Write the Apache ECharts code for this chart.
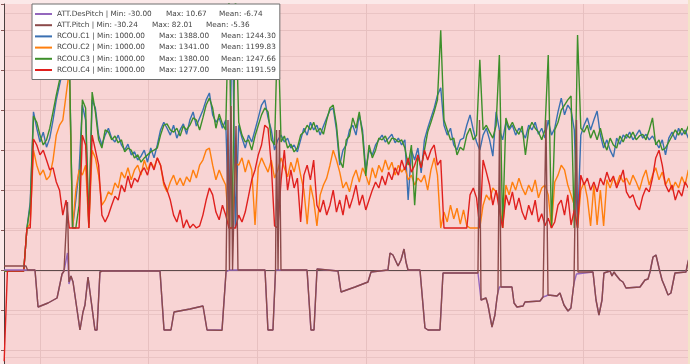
<!DOCTYPE html>
<html>
<head>
<meta charset="utf-8">
<script src="https://cdn.jsdelivr.net/npm/echarts@6.0.0/dist/echarts.min.js"></script>
<style>
html,body{margin:0;padding:0;background:#fbe9e9;}
#chart{width:690px;height:364px;}
</style>
</head>
<body>
<div id="chart"></div>
<script>
// ---- data ----
const legendNames = ['ATT.DesPitch','ATT.Pitch','RCOU.C1','RCOU.C2','RCOU.C3','RCOU.C4'];
const statMin  = ['-30.00','-30.24','1000.00','1000.00','1000.00','1000.00'];
const statMax  = ['10.67','82.01','1388.00','1341.00','1380.00','1277.00'];
const statMean = ['-6.74','-5.36','1244.30','1199.83','1247.66','1191.59'];

const rcouTime = [67,70,73,76,79,82,85,88,91,94,97,100,103,106,109,112,115,118,121,124,127,130,133,136,139,142,145,148,151,154,157,160,163,166,169,172,175,178,181,184,187,190,193,196,199,202,205,208,211,214,217,220,223,226,229,232,235,238,241,244,247,250,253,256,259,262,265,268,271,274,277,280,283,286,289,292,295,298,301,304,307,310,313,316,319,322,325,328,331,334,337,340,343,346,349,352,355,358,361,364,367,370,373,376,379,382,385,388,391,394,397,400,403,406,409,412,415,418,421,424,427,430,433,436,439,442,445,448,451,454,457,460,463,466,469,472,475,478,481,484,487,490,493,496,499,502,505,508,511,514,517,520,523,526,529,532,535,538,541,544,547,550,553,556,559,562,565,568,571,574,577,580,583,586,589,592,595,598,601,604,607,610,613,616,619,622,625,628,631,634,637,640,643,646,649,652,655,658,661,664,667,670,673,676,679,682,685,688,691,694,697];

const rcouC1 = [
900,900,900,900,900,900,900,1000,1060,1270,
1232,1200,1223,1188,1209,1251,1298,1333,1367,1414,
1390,1000,1065,1135,1286,1251,1000,1298,1279,1216,
1193,1216,1232,1209,1200,1216,1193,1181,1195,1170,
1177,1158,1167,1181,1153,1186,1163,1193,1228,1246,
1232,1216,1239,1209,1228,1242,1218,1251,1270,1237,
1256,1274,1298,1314,1263,1246,1256,1232,1251,1000,
1520,1000,1239,1209,1186,1216,1200,1228,1256,1286,
1298,1256,1228,1181,1205,1216,1200,1209,1186,1193,
1177,1205,1232,1216,1246,1228,1239,1216,1237,1256,
1274,1279,1228,1146,1181,1193,1228,1239,1216,1263,
1228,1135,1181,1170,1193,1205,1216,1200,1209,1218,
1198,1209,1193,1205,1065,1181,1158,1186,1128,1205,
1232,1256,1279,1309,1326,1239,1216,1232,1193,1181,
1205,1209,1239,1263,1228,1200,1181,1216,1232,1205,
1167,1270,1228,1205,1246,1228,1239,1216,1232,1223,
1209,1239,1228,1246,1218,1232,1209,1251,1216,1232,
1270,1302,1263,1286,1274,1228,1000,1216,1239,1256,
1228,1251,1272,1216,1186,1205,1181,1165,1209,1195,
1216,1209,1223,1205,1216,1228,1209,1218,1205,1214,
1200,1186,1205,1170,1209,1223,1205,1232,1216,1228,1209];

const rcouC2 = [
900,900,900,900,900,900,900,1000,1010,1181,
1146,1123,1135,1112,1121,1158,1216,1239,1251,1309,
1367,1000,1088,1135,1123,1146,1000,1181,1163,1123,
1053,1065,1084,1077,1105,1093,1130,1116,1140,1112,
1135,1146,1123,1158,1135,1153,1140,1163,1146,1100,
1084,1107,1123,1100,1116,1098,1119,1107,1135,1116,
1146,1158,1181,1186,1146,1112,1135,1116,1100,1000,
1000,1150,1146,1163,1130,1158,1135,1007,1140,1163,
1146,1130,1158,1116,1135,1163,1140,1119,1153,1130,
1163,1123,1088,1009,1100,1065,1005,1077,1100,1116,
1146,1181,1158,1130,1093,1107,1084,1116,1135,1107,
1140,1123,1100,1140,1116,1146,1130,1158,1135,1153,
1123,1146,1130,1140,1112,1123,1100,1116,1107,1123,
1088,1135,1163,1123,1000,1037,1014,1053,1021,1046,
1009,1042,1005,1000,1000,1000,1000,1053,1077,1065,
1093,1084,1065,1000,1100,1077,1107,1088,1116,1093,
1077,1100,1084,1112,1070,1093,1100,1077,1000,1107,
1123,1146,1135,1100,1077,1053,1000,1088,1107,1070,
1005,1100,1007,1088,1005,1112,1093,1116,1100,1123,
1107,1116,1100,1123,1107,1088,1116,1135,1100,1123,
1140,1112,1130,1100,1116,1088,1107,1093,1119,1100,1135];

const rcouC3 = [
900,900,900,900,900,900,900,1000,1050,1260,
1246,1216,1193,1205,1232,1270,1309,1344,1390,1437,
1402,1000,1000,1053,1298,1279,1010,1316,1270,1205,
1186,1228,1223,1205,1214,1198,1205,1177,1186,1181,
1163,1170,1153,1163,1170,1177,1181,1186,1216,1239,
1242,1228,1223,1232,1214,1237,1228,1239,1256,1251,
1228,1256,1286,1302,1279,1232,1265,1242,1228,1540,
1000,1540,1246,1216,1200,1205,1181,1214,1239,1263,
1279,1270,1205,1193,1483,1200,1214,1186,1195,1177,
1186,1216,1223,1239,1228,1246,1223,1232,1218,1251,
1279,1286,1239,1158,1140,1205,1214,1256,1232,1270,
1216,1121,1193,1163,1181,1209,1205,1214,1195,1209,
1207,1200,1205,1186,1146,1193,1053,1170,1140,1181,
1223,1246,1270,1298,1460,1251,1228,1205,1209,1170,
1188,1181,1216,1232,1205,1216,1391,1228,1239,1223,
1209,1239,1402,1000,1256,1232,1246,1228,1218,1237,
1170,1228,1246,1232,1223,1205,1228,1402,1000,1228,
1246,1274,1286,1298,1307,1000,1449,1232,1223,1239,
1209,1228,1205,1232,1200,1181,1209,1193,1186,1214,
1200,1218,1209,1223,1205,1214,1218,1205,1228,1256,
1193,1205,1181,1186,1200,1214,1228,1216,1232,1218,1237];

const rcouC4 = [
690,900,900,900,900,900,900,1000,1000,1207,
1193,1170,1181,1158,1135,1140,1107,1088,1030,1065,
1000,1000,1000,1000,1216,1193,1000,1216,1181,1146,
1030,1014,1030,1053,1074,1065,1100,1084,1121,1093,
1116,1107,1130,1140,1123,1153,1135,1163,1146,1107,
1088,1065,1030,1014,1042,1000,1019,1000,1009,1000,
1005,1030,1065,1093,1077,1037,1019,1053,1030,1000,
1000,1000,1030,1014,1037,1074,1112,1135,1170,1193,
1239,1232,1146,1005,1000,1112,1181,1088,1135,1093,
1116,1014,1123,1146,1112,1158,1053,1037,1065,1030,
1053,1088,1037,1065,1030,1077,1046,1070,1100,1053,
1077,1042,1065,1088,1107,1093,1121,1100,1130,1112,
1140,1123,1158,1135,1163,1130,1146,1170,1140,1181,
1158,1181,1193,1146,1158,1000,1000,1000,1000,1000,
1000,1000,1000,1077,1093,1070,1000,1158,1130,1100,
1053,1088,1042,1000,1077,1053,1084,1042,1070,1037,
1019,1053,1030,1065,1014,1033,1005,1023,1000,1014,
1053,1065,1030,1077,1007,1042,1000,1123,1100,1116,
1088,1107,1084,1116,1100,1130,1107,1121,1093,1112,
1135,1084,1070,1077,1053,1042,1074,1093,1084,1116,
1163,1181,1146,1100,1084,1100,1065,1088,1074,1107,1093];

const attTime = [
66.9,87.1,88.5,95.4,98.2,107.4,115.7,120.3,122.1,123.9,
125.3,126.7,128.5,130.4,136.8,139.6,141.4,144.2,147,150.6,
152.5,155.2,157.1,210.5,214.2,220.6,223.4,238.1,250.1,253.8,
267.6,271.3,273.1,274.5,275.9,277.3,279,280.5,282.3,307.2,
309.9,314.5,316.9,317.8,319.2,320.5,321.9,345.9,349.5,352.3,
355.1,374.4,377.2,390.1,402,404.8,420.4,422.3,425,429.7,
432.4,435.2,437,438.9,449.9,454.5,457.3,468.3,471.1,503.3,
504.7,506.1,510.7,512.5,516.2,518.9,520.8,521.7,523.1,524.5,
534.6,536.5,539.2,544.8,546.6,560.4,563.2,565.9,567.8,576.1,
578.8,582.5,586.2,588.9,591.7,594,595.4,609.2,612,614.7,
617.5,619.3,624.9,626.7,628.5,630.4,634.1,636.8,639.6,652.5,
657.1,659.9,661.7,664.5,667.2,670,672.8,675.5,678.3,681,
684.7,694.8,696.7,698.5];

const attPitch = [
2,2,0,0,-18.5,-16.5,-14,-2,-0.5,0,
34,-6,-3,-6,-30,-21,-17.5,-3.5,-15,-30,
-30,-1,-0.5,-0.5,-30,-30,-21,-19.5,-18,-30,
-30.2,-1,75,0,82,0,0,72,0,0,
-30,-30,0,70,0,70,0,0,-30,-30,
0.5,-0.5,-11,-8.5,-6,-1,0,8.5,7.5,2,
5,10.5,4,0,0,-29,-30,-30,-1.5,-1.5,
75,-15,-14,-17.5,-28.5,-22.5,-14,-11,70,-8.5,
-8.5,-16.5,-18.5,-18,-16,-15.5,-13.5,75,-12.5,-13,
-11.5,-17.5,-20.5,-19,-6.5,75,-1,-1,-15,-22.5,
-15,-1.5,-0.5,-3,-1,-2.5,-5,-6,-9,-8.5,
-5,-4.5,-1,6.5,7.5,1,-5,-8.5,-12.5,-11.5,
-1.5,-1,4,7.5];

const attDesPitch = [
0,0,0,0,-18.5,-16.5,-14,-2,-0.5,0,
8.5,-7,-3,-6,-30,-21,-17.5,-3.5,-15,-30,
-30,-1,-0.5,-0.5,-30,-30,-21,-19.5,-18,-30,
-30,-1,0,0,0,0,0,0,0,0,
-30,-30,0,0,0,0,0,0,-30,-30,
0.5,-0.5,-11,-8.5,-6,-1,0,8.5,7.5,2,
5,10.5,4,0,0,-29,-30,-30,-1.5,-1.5,
-2,-15,-14,-17.5,-28.5,-22.5,-14,-11,-8.5,-8.5,
-8.5,-16.5,-18.5,-18,-16,-15.5,-13.5,-13,-12.5,-13,
-11.5,-17.5,-20.5,-19,-6.5,-2,-1,-1,-15,-22.5,
-15,-1.5,-0.5,-3,-1,-2.5,-5,-6,-9,-8.5,
-5,-4.5,-1,6.5,7.5,1,-5,-8.5,-12.5,-11.5,
-1.5,-1,4,7.5];

// ---- chart ----
function zip(xs, ys){ return xs.map((x,i)=>[x, ys[i]]); }
const colors = {
  'ATT.DesPitch':'#9467bd','ATT.Pitch':'#8c4a4a',
  'RCOU.C1':'#3a70b2','RCOU.C2':'#ff7f0e','RCOU.C3':'#3d8f2a','RCOU.C4':'#e0201e'
};
function lineSeries(name, data, yIdx){
  return {name, type:'line', data, yAxisIndex:yIdx, xAxisIndex:0,
    symbol:'none', showSymbol:false, silent:true, clip:true,
    color: colors[name], lineStyle:{width:1.4, color:colors[name]}};
}
// legend column layout (px): width of "name | Min" part and "Max" part per row style
const FONT = {fontFamily:'DejaVu Sans', fontSize:7.3, color:'#444', lineHeight:9};
const rich = {
  a0:Object.assign({width:109}, FONT), a1:Object.assign({width:95}, FONT), a2:Object.assign({width:102}, FONT),
  b0:Object.assign({width:53}, FONT),  b1:Object.assign({width:54}, FONT), b2:Object.assign({width:62}, FONT),
  c:Object.assign({}, FONT)
};
const chart = echarts.init(document.getElementById('chart'), null, {renderer:'canvas'});
chart.setOption({
  animation:false,
  backgroundColor:'#fbe9e9',
  graphic:[{type:'rect', right:0, top:0, z:100, shape:{width:2, height:364}, style:{fill:'#f3e4c8'}}],
  grid:{left:4, right:2, top:4, bottom:0, show:true, backgroundColor:'#f8d4d4', borderWidth:0},
  legend:{
    data:legendNames, orient:'vertical', left:32, top:4,
    padding:[5.5,4,5,3], itemGap:2.2, itemWidth:17, itemHeight:2, icon:'rect',
    backgroundColor:'#ffffff', borderColor:'#6e6e6e', borderWidth:1,
    selectedMode:false,
    textStyle:Object.assign({rich:rich}, FONT),
    formatter:function(name){
      const i = legendNames.indexOf(name);
      const k = Math.min(i, 2);
      return '{a' + k + '|' + name + ' | Min: ' + statMin[i] + '}{b' + k + '|Max: ' + statMax[i] + '}{c|Mean: ' + statMean[i] + '}';
    }
  },
  xAxis:{type:'value', min:66.85, max:696.7,
    axisLine:{show:true, onZero:true, onZeroAxisIndex:0, lineStyle:{color:'#5e4a4a', width:1}},
    axisTick:{show:false}, axisLabel:{show:false},
    splitLine:{show:true, showMinLine:false, showMaxLine:false, lineStyle:{color:'#e7c0c0', width:1}}},
  yAxis:[
    {type:'value', min:-47, max:133, splitNumber:9, position:'left',
     axisLine:{show:true, onZero:false, lineStyle:{color:'#4a4040', width:1}},
     axisTick:{show:true, length:3, lineStyle:{color:'#8a5a5a'}}, axisLabel:{show:false},
     splitLine:{show:true, showMinLine:false, showMaxLine:false, lineStyle:{color:'#e7c0c0', width:1}}},
    {type:'value', min:683.7, max:1520.9, splitNumber:8, position:'right',
     axisLine:{show:false}, axisTick:{show:false}, axisLabel:{show:false},
     splitLine:{show:true, showMinLine:false, showMaxLine:false, lineStyle:{color:'#eac4c4', width:1}}}
  ],
  series:[
    lineSeries('RCOU.C1', zip(rcouTime, rcouC1), 1),
    lineSeries('RCOU.C2', zip(rcouTime, rcouC2), 1),
    lineSeries('RCOU.C3', zip(rcouTime, rcouC3), 1),
    lineSeries('RCOU.C4', zip(rcouTime, rcouC4), 1),
    lineSeries('ATT.DesPitch', zip(attTime, attDesPitch), 0),
    lineSeries('ATT.Pitch', zip(attTime, attPitch), 0)
  ]
});
</script>
</body>
</html>
